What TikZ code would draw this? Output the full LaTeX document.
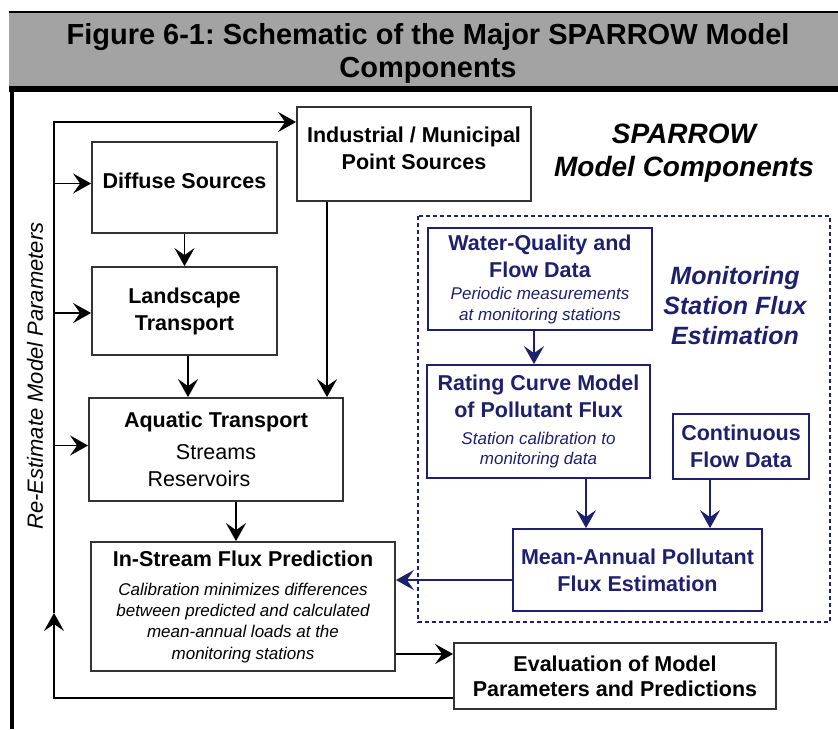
\documentclass[tikz,border=0pt]{standalone}
\usepackage{fontspec}
\setmainfont{Liberation Sans}
\usetikzlibrary{arrows.meta}
\frenchspacing

\definecolor{navy}{RGB}{30,32,110}
\definecolor{hdrgray}{RGB}{163,163,163}
\newcommand\smallit{\fontsize{17}{21}\selectfont\mdseries\itshape}

\begin{document}
\begin{tikzpicture}[x=1pt,y=-1pt,
    box/.style={draw=black!80,line width=1.8pt,align=center,inner sep=0pt,
      font=\fontsize{21.5}{27}\selectfont\bfseries},
    bbox/.style={box,draw=navy,text=navy},
    arr/.style={line width=1.8pt,-{Stealth[length=18pt,width=20pt,inset=7pt]}},
    barr/.style={arr,navy}]
  \useasboundingbox (0,0) rectangle (838,729);

  % header band and frame
  \fill[hdrgray] (9,12) rectangle (838,86);
  \draw[line width=2pt] (9,12) -- (838,12);
  \fill (9,86) rectangle (838,92);
  \fill (10,86) rectangle (14,729);
  \node[align=center,font=\fontsize{29}{33}\selectfont\bfseries] (title) at (428,53)
    {Figure 6-1: Schematic of the Major SPARROW Model\\Components};

  % model components
  \node[box,minimum width=185,minimum height=91,text depth=14pt] (diff) at (184.5,187.5) {Diffuse Sources};
  \node[box,minimum width=234,minimum height=94,text depth=12pt] (ind) at (414,154) {Industrial / Municipal\\Point Sources};
  \node[box,minimum width=185,minimum height=88] (land) at (184.5,311) {Landscape\\Transport};
  \node[box,minimum width=254,minimum height=103] (aqua) at (216,449.5)
    {Aquatic Transport\\[5pt]\mdseries Streams\hspace*{46pt}\\\mdseries Reservoirs\hspace*{34pt}};
  \node[box,minimum width=304,minimum height=129] (flux) at (243,606.5)
    {In-Stream Flux Prediction\\[2pt]\smallit Calibration minimizes differences\\[-6pt]\smallit between predicted and calculated\\[-6pt]
     \smallit mean-annual loads at the\\[-5pt]\smallit monitoring stations};
  \node[box,minimum width=322,minimum height=66,font=\fontsize{21.5}{25}\selectfont\bfseries] (eval) at (615,676)
    {Evaluation of Model\\Parameters and Predictions};

  \node[font=\fontsize{28}{33}\selectfont\bfseries\itshape,align=center] (spar) at (684,153)
    {SPARROW\\Model Components};
  \node[rotate=90,font=\fontsize{22}{26}\selectfont\itshape] (reest) at (35,376) {Re-Estimate Model Parameters};

  % monitoring station part
  \draw[navy,line width=1.3pt,dash pattern=on 4pt off 3pt] (418,216) rectangle (830,622);
  \node[bbox,minimum width=224,minimum height=102] (wq) at (540,279)
    {Water-Quality and\\Flow Data\\[-5pt]\smallit Periodic measurements\\[-6pt]\smallit at monitoring stations};
  \node[bbox,minimum width=223,minimum height=113] (rate) at (538.5,421.5)
    {Rating Curve Model\\of Pollutant Flux\\\smallit Station calibration to\\[-7pt]\smallit monitoring data};
  \node[bbox,minimum width=136,minimum height=65] (cont) at (741,446.5) {Continuous\\Flow Data};
  \node[bbox,minimum width=249,minimum height=82] (mean) at (637.5,570) {Mean-Annual Pollutant\\Flux Estimation};
  \node[text=navy,align=center,font=\fontsize{25}{30}\selectfont\bfseries\itshape] (mon) at (735,306)
    {Monitoring\\Station Flux\\Estimation};

  % connectors
  \draw[arr] (diff) -- (land);
  \draw[arr] ([xshift=3.5pt]land.south) -- ([xshift=3.5pt]land.south |- aqua.north);
  \draw[arr] ([xshift=-87pt]ind.south) -- ([xshift=-87pt]ind.south |- aqua.north);
  \draw[arr] ([xshift=20pt]aqua.south) -- ([xshift=20pt]aqua.south |- flux.north);
  \draw[arr] ([yshift=-47.5pt]flux.east) -- ([yshift=-47.5pt]flux.east -| eval.west);
  \draw[barr] (wq.south -| 534,0) -- (rate.north -| 534,0);
  \draw[barr] ([xshift=47.5pt]rate.south) -- ([xshift=47.5pt]rate.south |- mean.north);
  \draw[barr] ([xshift=-31pt]cont.south) -- ([xshift=-31pt]cont.south |- mean.north);
  \draw[barr] ([yshift=-10pt]mean.west) -- ([yshift=-10pt]mean.west -| flux.east);

  % feedback loop
  \coordinate (up) at (54,613);
  \draw[arr] ([yshift=-22pt]eval.west) -| (up);
  \draw[arr] (up) |- ([yshift=32pt]ind.west);
  \foreach \b/\s in {diff/4,land/-2,aqua/4}
    \draw[arr] ([yshift=\s pt]\b.west -| up) -- ([yshift=\s pt]\b.west);
\end{tikzpicture}
\end{document}
